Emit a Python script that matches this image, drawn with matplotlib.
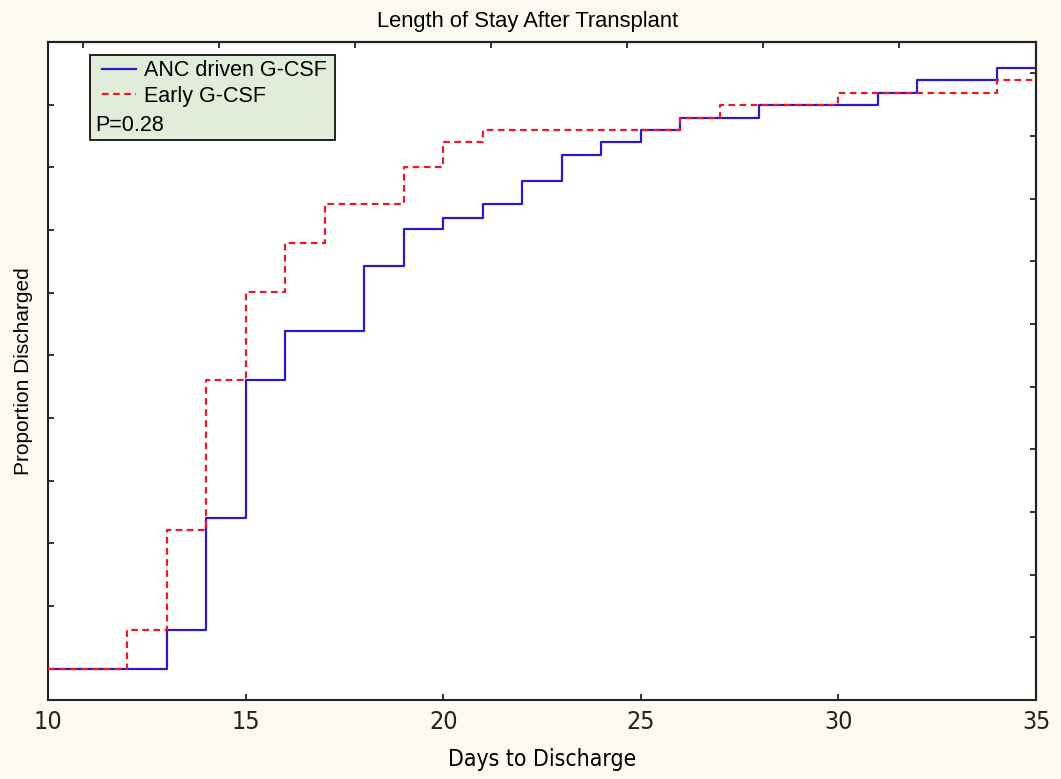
"""Length of stay after transplant: ANC driven vs early G-CSF."""

import matplotlib

matplotlib.use("Agg")
import matplotlib.pyplot as plt
from matplotlib import font_manager
from matplotlib.lines import Line2D
from matplotlib.patches import Rectangle

# Kaplan-Meier style step data (value holds from each day until the next)
ANC_DAYS = [10, 13, 14, 15, 16, 18, 19, 20, 21, 22, 23, 24, 25, 26, 28, 31, 32, 34, 35]
ANC_PROP = [0.0, 0.062, 0.240, 0.461, 0.539, 0.642, 0.701, 0.719, 0.741, 0.778,
            0.819, 0.840, 0.860, 0.878, 0.900, 0.919, 0.940, 0.959, 0.959]

EARLY_DAYS = [10, 12, 13, 14, 15, 16, 17, 19, 20, 21, 26, 27, 30, 34, 35]
EARLY_PROP = [0.0, 0.062, 0.221, 0.461, 0.601, 0.679, 0.741, 0.800, 0.841, 0.860,
              0.878, 0.900, 0.919, 0.940, 0.940]

X_TICKS = [10, 15, 20, 25, 30, 35]
Y_TICKS = [0.0, 0.1, 0.2, 0.3, 0.4, 0.5, 0.6, 0.7, 0.8, 0.9]
RIGHT_TICKS = [0.05, 0.15, 0.25, 0.35, 0.45, 0.55, 0.65, 0.75, 0.85, 0.95]
TOP_TICKS = [10.89, 14.33, 17.77, 21.21, 24.65, 28.09, 31.53]

BLUE = "#2a1bc9"
RED = "#e8192c"
BG = "#fdfaef"
LEGEND_BG = "#e1edd9"
REGULAR = "Liberation Sans"

_fonts = font_manager.fontManager.ttflist
if any(f.name == "Liberation Sans Narrow" for f in _fonts):
    NARROW = {"fontfamily": "Liberation Sans Narrow"}
elif any(f.name == "DejaVu Sans" and f.stretch == "condensed" for f in _fonts):
    NARROW = {"fontfamily": "DejaVu Sans", "fontstretch": "condensed"}
else:
    NARROW = {"fontfamily": REGULAR}


def main() -> None:
    fig = plt.figure(figsize=(10.61, 7.79), dpi=100, facecolor=BG)
    ax = fig.add_axes([0.0452, 0.1014, 0.9313, 0.8447])
    ax.set_facecolor("white")

    ax.step(ANC_DAYS, ANC_PROP, where="post", color=BLUE, linewidth=1.6, zorder=3)
    ax.step(EARLY_DAYS, EARLY_PROP, where="post", color=RED, linewidth=1.6,
            linestyle=(0, (3, 2)), zorder=4)

    ax.set_xlim(10, 35)
    ax.set_ylim(-0.05, 1.0)
    ax.set_xticks(X_TICKS)
    ax.set_xticklabels([str(t) for t in X_TICKS], fontsize=18, **NARROW)
    ax.set_yticks(Y_TICKS)
    ax.set_yticklabels([])
    ax.tick_params(direction="in", length=4, width=1.3, colors="#222222", pad=7)

    top = ax.secondary_xaxis("top")
    top.set_xticks(TOP_TICKS)
    top.set_xticklabels([])
    top.tick_params(direction="in", length=4, width=1.3, colors="#222222")
    right = ax.secondary_yaxis("right")
    right.set_yticks(RIGHT_TICKS)
    right.set_yticklabels([])
    right.tick_params(direction="in", length=4, width=1.3, colors="#222222")

    for spine in list(ax.spines.values()) + [top.spines["top"], right.spines["right"]]:
        spine.set_linewidth(1.5)
        spine.set_color("#222222")

    ax.set_xlabel("Days to Discharge", fontsize=16.5, labelpad=10, **NARROW)
    ax.set_ylabel("Proportion Discharged", fontfamily=REGULAR, fontsize=15, labelpad=4)
    fig.text(0.497, 0.972, "Length of Stay After Transplant", ha="center", va="center",
             fontfamily=REGULAR, fontsize=15.8)

    # legend box with p-value
    ax.add_patch(Rectangle((0.0425, 0.851), 0.248, 0.129, transform=ax.transAxes,
                           facecolor=LEGEND_BG, edgecolor="#111111", linewidth=1.3,
                           zorder=5))
    handles = [
        Line2D([], [], color=BLUE, linewidth=1.6),
        Line2D([], [], color=RED, linewidth=1.6, linestyle=(0, (3, 2))),
    ]
    leg = ax.legend(handles, ["ANC driven G-CSF", "Early G-CSF"], loc="upper left",
                    bbox_to_anchor=(0.039, 0.995), frameon=False, handlelength=1.6,
                    handletextpad=0.38, labelspacing=0.2, borderpad=0.2,
                    prop={"family": REGULAR, "size": 15.5})
    leg.set_zorder(6)
    ax.text(0.048, 0.873, "P=0.28", transform=ax.transAxes, ha="left", va="center",
            fontfamily=REGULAR, fontsize=15.5, zorder=6)

    fig.savefig("out.png", dpi=100, facecolor=BG)


if __name__ == "__main__":
    main()
